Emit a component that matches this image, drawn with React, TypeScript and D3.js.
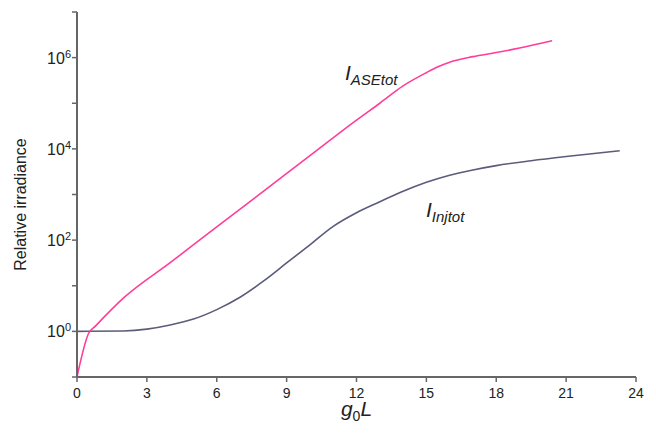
import { useEffect, useRef } from 'react';
import * as d3 from 'd3';

// g0L values and relative irradiance
const aseX = [0, 0.5, 0.8, 2, 4, 6, 8, 10, 12, 13, 14, 15, 15.5, 16, 17, 18, 19, 20.4];
const aseY = [0.1, 0.91, 1.32, 5.4, 32, 195, 1175, 7080, 42700, 100000, 240000, 468000, 631000, 794000, 1050000, 1290000, 1620000, 2340000];

const injX = [0, 2, 3, 4, 5, 6, 7, 8, 9, 10, 11, 12, 13, 14, 15, 16, 17, 18, 19.5, 21, 23.3];
const injY = [1, 1.02, 1.12, 1.38, 1.86, 3.0, 5.6, 12.6, 31.6, 79, 200, 398, 692, 1175, 1850, 2650, 3450, 4300, 5500, 6800, 9100];

const xTicks = [0, 3, 6, 9, 12, 15, 18, 21, 24];
const yExponents = [-1, 0, 1, 2, 3, 4, 5, 6, 7];
const yLabelExponents = [0, 2, 4, 6];

const App = () => {
  const svgRef = useRef<SVGSVGElement>(null);

  useEffect(() => {
    const svg = d3.select(svgRef.current);
    svg.selectAll('*').remove();

    const left = 77;
    const right = 636;
    const top = 12;
    const bottom = 377;
    const font = 'Liberation Sans, Arial, sans-serif';
    const axisColor = '#666';

    const x = d3.scaleLinear().domain([0, 24]).range([left, right]);
    const y = d3.scaleLog().domain([0.1, 1e7]).range([bottom, top]);

    const line = d3
      .line<[number, number]>()
      .x((d) => x(d[0]))
      .y((d) => y(d[1]))
      .curve(d3.curveMonotoneX);

    svg
      .append('path')
      .datum(injX.map((v, i) => [v, injY[i]] as [number, number]))
      .attr('d', line)
      .attr('fill', 'none')
      .attr('stroke', '#5b5b7b')
      .attr('stroke-width', 1.6);

    svg
      .append('path')
      .datum(aseX.map((v, i) => [v, aseY[i]] as [number, number]))
      .attr('d', line)
      .attr('fill', 'none')
      .attr('stroke', '#ff3d9a')
      .attr('stroke-width', 1.6);

    // x axis
    const xAxis = svg.append('g');
    xAxis
      .append('line')
      .attr('x1', left)
      .attr('x2', right)
      .attr('y1', bottom)
      .attr('y2', bottom)
      .attr('stroke', axisColor)
      .attr('stroke-width', 2);
    xAxis
      .selectAll('line.tick')
      .data(xTicks)
      .enter()
      .append('line')
      .attr('class', 'tick')
      .attr('x1', (d) => x(d))
      .attr('x2', (d) => x(d))
      .attr('y1', bottom)
      .attr('y2', bottom + 5)
      .attr('stroke', axisColor)
      .attr('stroke-width', 1.5);
    xAxis
      .selectAll('text')
      .data(xTicks)
      .enter()
      .append('text')
      .attr('x', (d) => x(d))
      .attr('y', bottom + 21)
      .attr('text-anchor', 'middle')
      .style('font-family', font)
      .style('font-size', '14px')
      .style('fill', '#222')
      .text((d) => d);

    // y axis
    const yAxis = svg.append('g');
    yAxis
      .append('line')
      .attr('x1', left)
      .attr('x2', left)
      .attr('y1', top)
      .attr('y2', bottom)
      .attr('stroke', axisColor)
      .attr('stroke-width', 2);
    yAxis
      .selectAll('line.tick')
      .data(yExponents)
      .enter()
      .append('line')
      .attr('class', 'tick')
      .attr('x1', left - 5)
      .attr('x2', left)
      .attr('y1', (d) => y(Math.pow(10, d)))
      .attr('y2', (d) => y(Math.pow(10, d)))
      .attr('stroke', axisColor)
      .attr('stroke-width', 1.5);
    const yLabels = yAxis
      .selectAll('text')
      .data(yLabelExponents)
      .enter()
      .append('text')
      .attr('x', left - 6)
      .attr('y', (d) => y(Math.pow(10, d)) + 6)
      .attr('text-anchor', 'end')
      .style('font-family', font)
      .style('font-size', '16px')
      .style('fill', '#222');
    yLabels.append('tspan').text('10');
    yLabels
      .append('tspan')
      .attr('dy', -6)
      .style('font-size', '11px')
      .text((d) => d);

    svg
      .append('text')
      .attr('transform', `translate(26,${(top + bottom) / 2 + 10}) rotate(-90)`)
      .attr('text-anchor', 'middle')
      .style('font-family', font)
      .style('font-size', '16px')
      .style('fill', '#222')
      .text('Relative irradiance');

    // x title g0L
    const xTitle = svg
      .append('text')
      .attr('x', x(12))
      .attr('y', 416)
      .attr('text-anchor', 'middle')
      .style('font-family', font)
      .style('font-size', '21px')
      .style('fill', '#222');
    xTitle.append('tspan').style('font-style', 'italic').text('g');
    xTitle.append('tspan').attr('dy', 5).style('font-size', '14px').text('0');
    xTitle.append('tspan').attr('dy', -5).style('font-style', 'italic').text('L');

    // curve labels
    const aseLabel = svg
      .append('text')
      .attr('x', 345)
      .attr('y', 80)
      .style('font-family', font)
      .style('font-style', 'italic')
      .style('font-size', '21px')
      .style('fill', '#222');
    aseLabel.append('tspan').text('I');
    aseLabel.append('tspan').attr('dy', 5).style('font-size', '15px').text('ASEtot');

    const injLabel = svg
      .append('text')
      .attr('x', 426)
      .attr('y', 217)
      .style('font-family', font)
      .style('font-style', 'italic')
      .style('font-size', '21px')
      .style('fill', '#222');
    injLabel.append('tspan').text('I');
    injLabel.append('tspan').attr('dy', 5).style('font-size', '15px').text('Injtot');
  }, []);

  return (
    <svg
      ref={svgRef}
      width={656}
      height={435}
      style={{ position: 'absolute', left: 0, top: 0, background: '#fff' }}
    ></svg>
  );
};

export default App;
